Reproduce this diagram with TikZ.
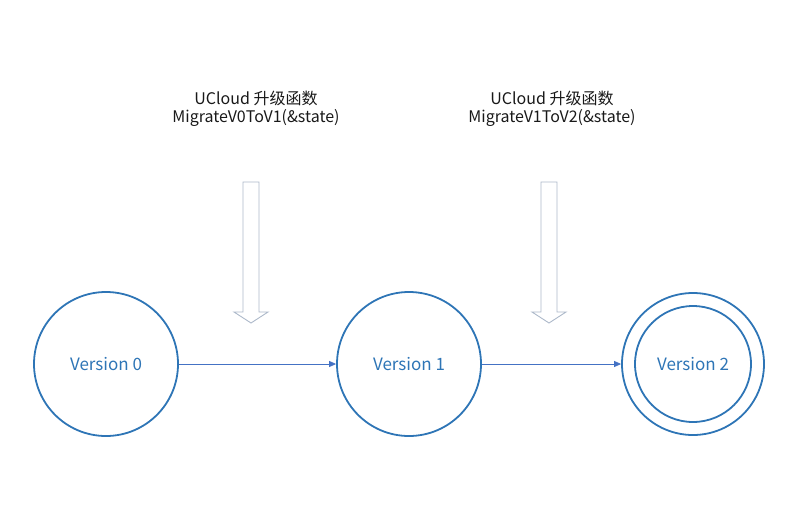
\documentclass[tikz,border=0pt]{standalone}
\usepackage{fontspec}
\setmainfont{Noto Sans CJK SC}
\usepackage{xcolor}
\usetikzlibrary{arrows.meta,positioning}

\definecolor{ringblue}{HTML}{2E75B6}
\definecolor{lineblue}{HTML}{4472C4}
\definecolor{hintgray}{HTML}{ADB9CA}

\tikzset{
  version/.style={circle,draw=ringblue,line width=1.8pt,minimum size=144pt,
    inner sep=0pt,text=ringblue,font=\fontsize{17}{19}\selectfont},
  ring/.style={circle,draw=ringblue,line width=1.8pt,minimum size=116pt,inner sep=0pt},
  upgrade/.style={draw=lineblue,line width=0.8pt,-{Triangle[length=7pt,width=6pt]}},
  fnlabel/.style={align=center,text=black!90,font=\fontsize{16}{18.5}\selectfont},
  hint/.style={draw=hintgray,line width=0.9pt,fill=white}
}

\begin{document}
\begin{tikzpicture}[x=1pt,y=-1pt]
\useasboundingbox (0,0) rectangle (800,517);

% states
\node[version] (v0) at (106,364) {Version 0};
\node[version] (v1) at (409,364) {Version 1};
\node[version,minimum size=142pt] (v2) at (693,364) {Version 2};
\node[ring] (v2in) at (v2.center) {};

% transitions
\draw[upgrade] (v0) -- (v1);
\draw[upgrade] (v1) -- (v2);

% upgrade functions
\node[fnlabel] (fn1) at (256,109) {UCloud 升级函数\\MigrateV0ToV1(\&state)};
\node[fnlabel] (fn2) at (552,109) {UCloud 升级函数\\MigrateV1ToV2(\&state)};

\coordinate (tip1) at (251,323);
\coordinate (tip2) at (549,323);
\foreach \t in {tip1,tip2}
  \draw[hint] (\t) -- ++(-17,-11) -- ++(9,0) -- ++(0,-130) -- ++(16,0)
    -- ++(0,130) -- ++(9,0) -- cycle;
\end{tikzpicture}
\end{document}
